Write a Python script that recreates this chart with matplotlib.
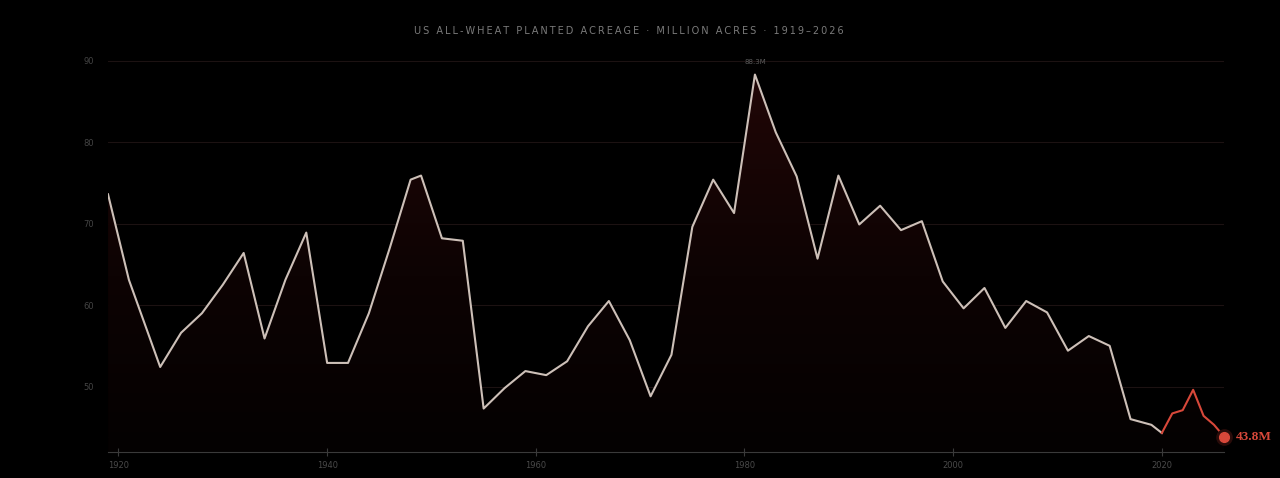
import numpy as np
import matplotlib
matplotlib.use('Agg')
import matplotlib.pyplot as plt
from matplotlib.colors import LinearSegmentedColormap

# planted acreage, million acres
years = [1919, 1921, 1924, 1926, 1928, 1930, 1932, 1934, 1936, 1938,
         1940, 1942, 1944, 1946, 1948, 1949, 1951, 1953, 1955, 1957,
         1959, 1961, 1963, 1965, 1967, 1969, 1971, 1973, 1975, 1977,
         1979, 1981, 1983, 1985, 1987, 1989, 1991, 1993, 1995, 1997,
         1999, 2001, 2003, 2005, 2007, 2009, 2011, 2013, 2015, 2017,
         2019, 2020, 2021, 2022, 2023, 2024, 2025, 2026]
acres = [73.6, 63.1, 52.4, 56.6, 59.0, 62.5, 66.4, 55.9, 63.1, 68.9,
         52.9, 52.9, 59.0, 67.0, 75.4, 75.9, 68.2, 67.9, 47.3, 49.8,
         51.9, 51.4, 53.1, 57.4, 60.5, 55.7, 48.8, 53.9, 69.6, 75.4,
         71.3, 88.3, 81.2, 75.8, 65.7, 75.9, 69.9, 72.2, 69.2, 70.3,
         62.9, 59.6, 62.1, 57.2, 60.5, 59.1, 54.4, 56.2, 55.0, 46.0,
         45.3, 44.3, 46.7, 47.1, 49.6, 46.4, 45.3, 43.8]
recent_from = 2020
y_ticks = [50, 60, 70, 80, 90]
x_ticks = [1920, 1940, 1960, 1980, 2000, 2020]
title = 'US ALL-WHEAT PLANTED ACREAGE · MILLION ACRES · 1919–2026'

bg = '#000000'
line_col = '#cdc0b8'
red = '#d8483a'

fig = plt.figure(figsize=(12.8, 4.78), dpi=100, facecolor=bg)
ax = fig.add_axes([0.0844, 0.055, 0.8722, 0.835])
ax.set_facecolor(bg)
ax.set_xlim(1919, 2026)
ax.set_ylim(42, 91)

x = np.array(years)
y = np.array(acres)

# gradient fill under the line
fill = ax.fill_between(x, y, 42, color='none', lw=0)
cmap = LinearSegmentedColormap.from_list(
    'fade', [(0, '#040101'), (0.45, '#0d0303'), (1, '#220707')])
grad = np.linspace(0, 1, 256).reshape(-1, 1)
img = ax.imshow(grad, cmap=cmap, aspect='auto', origin='lower',
                extent=[1919, 2026, 42, 90], zorder=1)
img.set_clip_path(fill.get_paths()[0], transform=ax.transData)

# grid + reference line at the latest value
for t in y_ticks:
    ax.axhline(t, color='#1c1212', lw=0.8, zorder=0.5)
ax.axhline(acres[-1], color='#3a1c1a', lw=0.8, ls=(0, (1.5, 3)), zorder=0.6)

# line, light then red for recent years
k = years.index(recent_from)
ax.plot(x[:k + 1], y[:k + 1], color=line_col, lw=1.5, zorder=3)
ax.plot(x[k:], y[k:], color=red, lw=1.5, zorder=3)
ax.plot([x[-1]], [y[-1]], 'o', ms=11, color='#2a0c0a', zorder=4, clip_on=False)
ax.plot([x[-1]], [y[-1]], 'o', ms=7, color=red, zorder=5, clip_on=False)
ax.text(x[-1] + 1.1, y[-1], f'{acres[-1]:.1f}M', color=red, fontsize=9.5,
        fontweight='bold', family='Liberation Serif', va='center', ha='left')

# peak label
i = int(np.argmax(y))
ax.annotate(f'{acres[i]:.1f}M', (x[i], y[i]), xytext=(0, 7),
            textcoords='offset points', ha='center', va='bottom',
            fontsize=5, color='#5a5a5a')

# axes styling
for s in ['top', 'right', 'left']:
    ax.spines[s].set_visible(False)
ax.spines['bottom'].set_color('#3a3a3a')
ax.spines['bottom'].set_linewidth(0.8)
ax.set_xticks(x_ticks)
ax.set_yticks(y_ticks)
ax.tick_params(axis='x', colors='#3a3a3a', labelcolor='#4a4a4a',
               labelsize=6, length=6, direction='inout', width=0.8, pad=4)
ax.tick_params(axis='y', length=0, labelcolor='#444444', labelsize=6, pad=10)

# tracked-out title (thin spaces between letters)
spaced = '\u2009'.join(title)
fig.text(0.491, 0.935, spaced, ha='center', va='center', color='#7a7a7a',
         fontsize=7, family='DejaVu Sans')

fig.savefig('out.png', dpi=100, facecolor=bg)
